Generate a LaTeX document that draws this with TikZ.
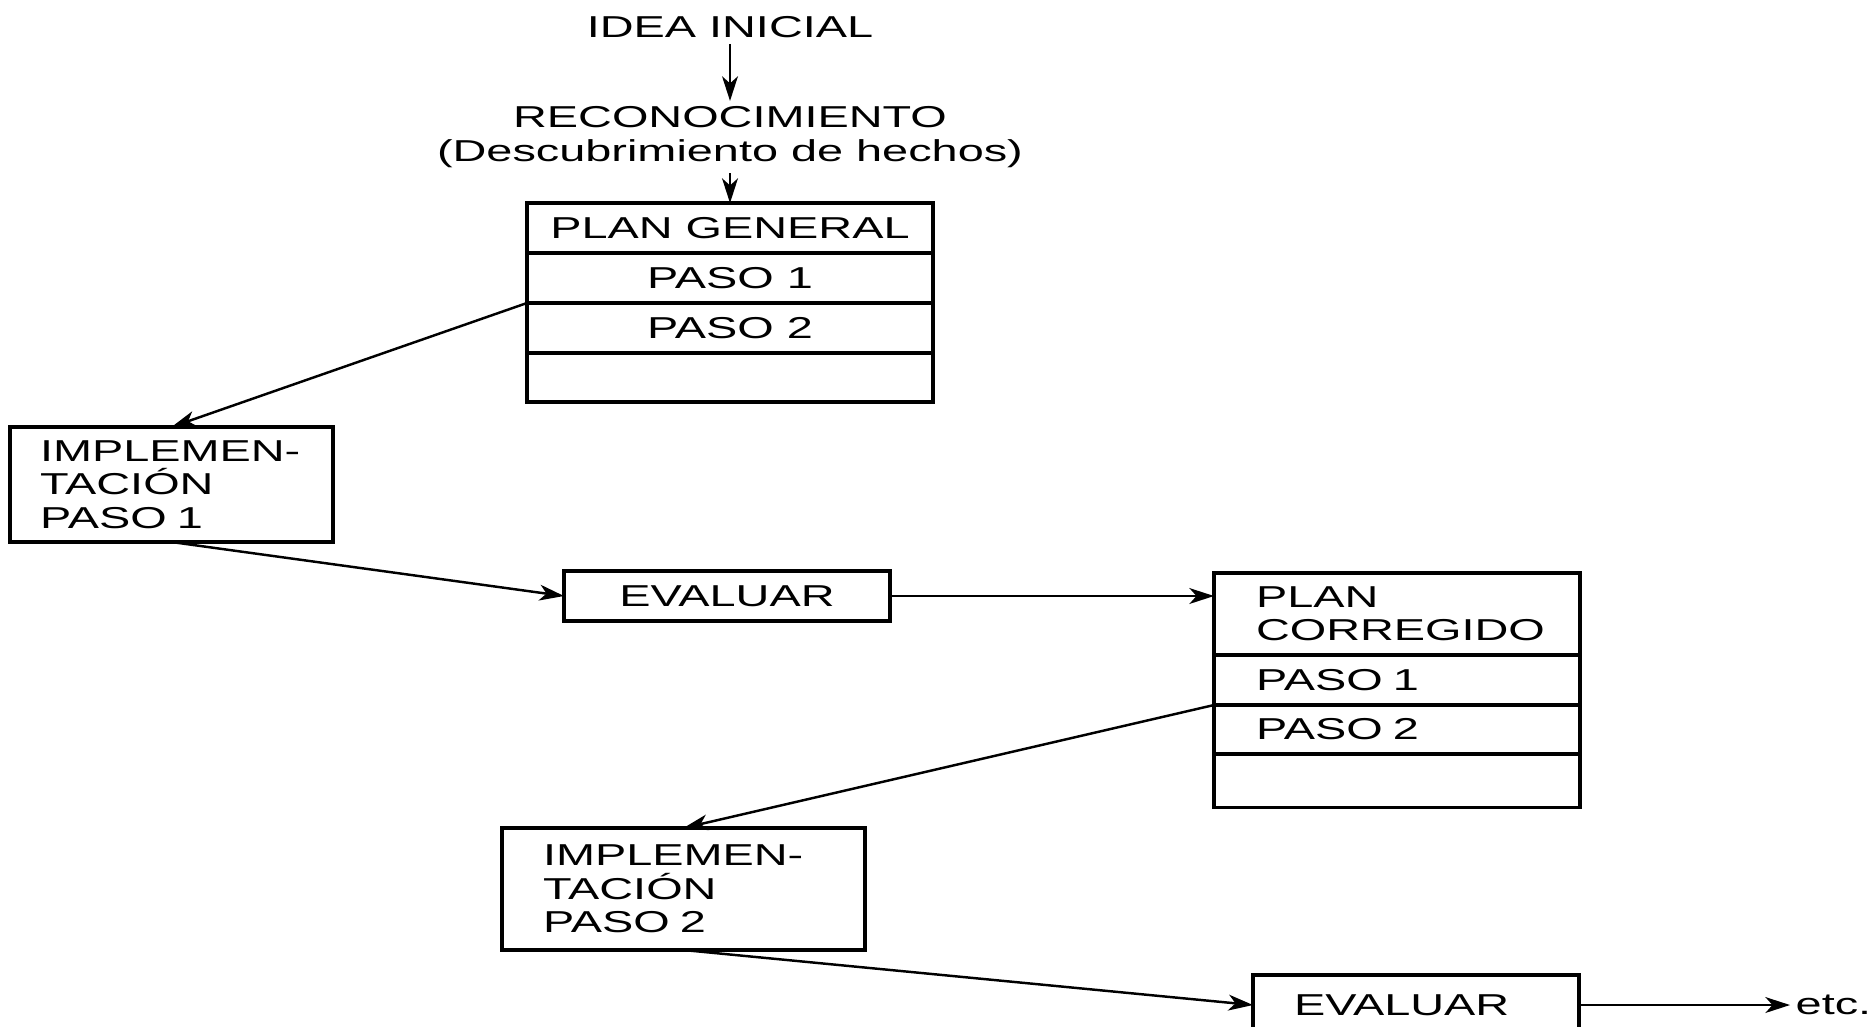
\documentclass[tikz,border=0pt]{standalone}
\usepackage{fontspec}
\setmainfont{Liberation Sans}[FakeStretch=1.55]
\usetikzlibrary{arrows.meta}

\begin{document}
\begin{tikzpicture}[
    x = 0.1mm,
    y = -0.1mm,
    >={Stealth[length=7pt,width=4.5pt,inset=2pt]},
    font = \fontsize{8.6}{9.5}\selectfont,
    arrow/.style = {->, line width = 0.7pt},
    txt/.style = {inner sep = 0.5mm},
    cell/.style = {
      draw,
      line width = 1pt,
      minimum height = 5mm,
      inner sep = 0pt,
      outer sep = 0pt
    },
    ccell/.style = {cell, minimum width = 40.6mm},
    lcell/.style = {cell, text width = 28.2mm, inner xsep = 4.2mm, align = left},
    box/.style = {
      draw,
      line width = 1pt,
      align = left,
      inner ysep = 0pt,
      outer sep = 0pt
    }
  ]
  \useasboundingbox (0,0) rectangle (1870,1026);

  \node[txt] (idea) at (730,27.5) {IDEA INICIAL};
  \node[txt, align=center] (recon) at (730,137) {RECONOCIMIENTO\\(Descubrimiento de hechos)};

  % plan general
  \node[ccell] (pg) at (730,228) {PLAN GENERAL};
  \node[ccell] (pg1) at (730,278) {PASO 1};
  \node[ccell] (pg2) at (730,328) {PASO 2};
  \node[ccell, minimum height=4.9mm] (pg3) at (730,377.5) {};

  \node[box, text width=26.3mm, inner xsep=3mm, minimum height=11.5mm] (impl1) at (171.5,484.5) {IMPLEMEN-\\TACIÓN\\PASO 1};
  \node[box, align=center, minimum width=32.6mm, minimum height=5mm, inner xsep=0pt] (eval1) at (727,596) {EVALUAR};

  % plan corregido
  \node[lcell, minimum height=8.2mm] (pc) at (1397,614) {PLAN\\CORREGIDO};
  \node[lcell] (pc1) at (1397,680) {PASO 1};
  \node[lcell, minimum height=4.9mm] (pc2) at (1397,729.5) {PASO 2};
  \node[lcell, minimum height=5.3mm] (pc3) at (1397,781) {};

  \node[box, text width=28.1mm, inner xsep=4.1mm, minimum height=12.2mm] (impl2) at (683.5,889) {IMPLEMEN-\\TACIÓN\\PASO 2};
  \node[box, text width=24.4mm, inner xsep=4.1mm, minimum height=6mm] (eval2) at (1416,1005) {EVALUAR};
  \node[txt, anchor=west] (etc) at (1790,1005) {etc.};

  \draw[arrow] (idea) -- (recon);
  \draw[arrow] (recon) -- (pg);
  \draw[arrow] (pg1.south west) -- (impl1.north);
  \draw[arrow] (impl1.south) -- (eval1.west);
  \draw[arrow] (eval1.east) -- (eval1.east -| pc.west);
  \draw[arrow] (pc1.south west) -- (impl2.north);
  \draw[arrow] (impl2.south) -- (eval2.west);
  \draw[arrow] (eval2.east) -- (etc);

\end{tikzpicture}
\end{document}
